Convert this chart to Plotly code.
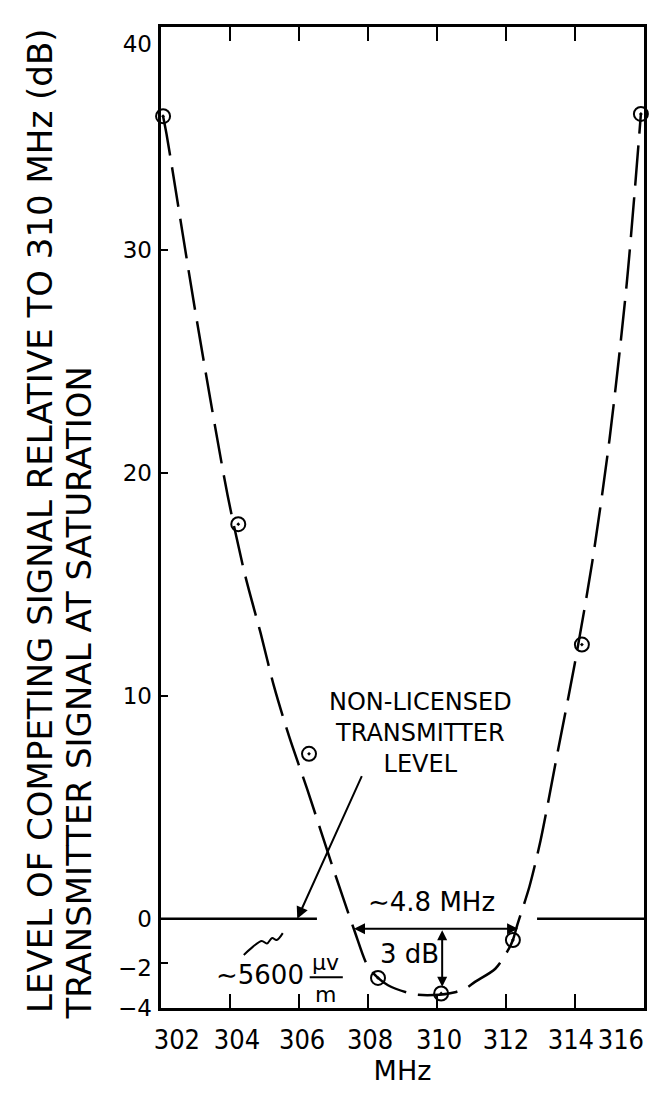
import plotly.graph_objects as go

# ---- data ----
freq_points = [302.06, 304.24, 306.29, 308.29, 310.12, 312.2, 314.2, 315.91]
level_points = [36.0, 17.7, 7.4, -2.65, -3.35, -0.95, 12.3, 36.1]

curve_x = [302.06, 302.16, 303.01, 303.93, 304.44, 304.89, 305.28, 305.73, 306.23,
           306.96, 307.6, 308.0, 308.29, 308.58, 309.31, 309.9, 310.52, 310.86,
           311.1, 311.69, 312.08, 312.2, 312.33, 312.68, 313.0, 313.5, 314.0,
           314.5, 315.0, 315.5, 315.91]
curve_y = [36.0, 35.2, 27.1, 19.0, 15.4, 12.8, 10.4, 8.1, 5.85,
           2.4, -0.5, -2.15, -2.65, -2.98, -3.38, -3.42, -3.29, -3.09,
           -2.83, -2.24, -1.35, -0.95, -0.26, 1.45, 3.5, 7.5, 11.5,
           16.0, 21.5, 28.5, 36.1]

zero_x = [302, 306.52, None, 312.9, 316]
zero_y = [0, 0, None, 0, 0]

wave_x = [304.40, 304.66, 304.92, 305.07, 305.22, 305.35, 305.53]
wave_y = [-1.62, -1.26, -0.99, -1.11, -0.86, -0.95, -0.64]

x_ticks = [302, 304, 306, 308, 310, 312, 314, 316]
x_tick_text = ["302", "304", "306", "308", "310", "312", "314", "316"]
y_ticks = [-4, -2, 0, 10, 20, 30, 40]
y_tick_text = ["\u22124", "\u22122", "0", "10", "20", "30", "40"]

# nudges of the hand-lettered labels, as they sit in the original
x_label_nudge = [0.46, 0.2, 0.09, 0.06, 0.06, 0.0, -0.12, -0.67]
y_label_nudge = [0.0, -0.2, 0.0, 0.0, 0.0, 0.0, -0.75]
x_label_pos = [t + n for t, n in zip(x_ticks, x_label_nudge)]
y_label_pos = [t + n for t, n in zip(y_ticks, y_label_nudge)]

FONT = "DejaVu Sans"
XFONT = "DejaVu Sans Condensed, Liberation Sans Narrow, Liberation Sans, Arial, sans-serif"

fig = go.Figure()
fig.add_trace(go.Scatter(
    x=curve_x, y=curve_y, mode="lines",
    line=dict(color="black", width=2.5, dash="40px,12px", shape="spline", smoothing=0.8),
    hoverinfo="skip", showlegend=False))
fig.add_trace(go.Scatter(
    x=zero_x, y=zero_y, mode="lines", connectgaps=False, xaxis="x2", yaxis="y2",
    line=dict(color="black", width=2.5), hoverinfo="skip", showlegend=False))
fig.add_trace(go.Scatter(
    x=wave_x, y=wave_y, mode="lines",
    line=dict(color="black", width=2, shape="spline"), hoverinfo="skip", showlegend=False))
fig.add_trace(go.Scatter(
    x=freq_points, y=level_points, mode="markers", cliponaxis=False,
    marker=dict(symbol="circle-open-dot", size=14, color="black",
                line=dict(width=2, color="black")),
    showlegend=False))

ann = []
# y-axis title, two left-aligned rotated lines
ann.append(dict(text="LEVEL OF COMPETING SIGNAL RELATIVE TO 310 MHz (dB)",
                xref="paper", yref="paper", x=(40 - 161) / 483, y=(1008 - 1015) / 981,
                xanchor="center", yanchor="bottom", textangle=-90, showarrow=False,
                font=dict(family=FONT, size=34, color="black")))
ann.append(dict(text="TRANSMITTER SIGNAL AT SATURATION",
                xref="paper", yref="paper", x=(79 - 161) / 483, y=(1008 - 1022) / 981,
                xanchor="center", yanchor="bottom", textangle=-90, showarrow=False,
                font=dict(family=FONT, size=34, color="black")))
# callout
ann.append(dict(text="NON-LICENSED<br>TRANSMITTER<br>LEVEL", x=309.53, y=8.35,
                xref="x", yref="y", showarrow=False, align="center",
                font=dict(family=FONT, size=24, color="black")))
ann.append(dict(text="", x=305.95, y=0.0, ax=307.84, ay=6.47, xref="x", yref="y",
                axref="x", ayref="y", showarrow=True, arrowhead=2, arrowsize=1.2,
                arrowwidth=2, arrowcolor="black"))
# 4.8 MHz
ann.append(dict(text="\u223c4.8 MHz", x=309.84, y=0.77, xref="x", yref="y",
                showarrow=False, font=dict(family=FONT, size=26, color="black")))
ann.append(dict(text="", x=312.35, y=-0.45, ax=307.55, ay=-0.45, xref="x", yref="y",
                axref="x", ayref="y", showarrow=True, arrowhead=2, startarrowhead=2,
                arrowside="end+start", arrowsize=1.1, arrowwidth=2, arrowcolor="black"))
# 3 dB
ann.append(dict(text="3 dB", x=309.19, y=-1.56, xref="x", yref="y",
                showarrow=False, font=dict(family=FONT, size=26, color="black")))
ann.append(dict(text="", x=310.15, y=-3.05, ax=310.15, ay=-0.45, xref="x", yref="y",
                axref="x", ayref="y", showarrow=True, arrowhead=2, startarrowhead=2,
                arrowside="end+start", arrowsize=1.0, arrowwidth=2, arrowcolor="black"))
# ~5600 uv/m
ann.append(dict(text="\u223c5600", x=304.86, y=-2.53, xref="x", yref="y",
                showarrow=False, font=dict(family=FONT, size=26, color="black")))
ann.append(dict(text="\u03bcv", x=306.78, y=-1.96, xref="x", yref="y",
                showarrow=False, font=dict(family=FONT, size=22, color="black")))
ann.append(dict(text="m", x=306.78, y=-3.39, xref="x", yref="y",
                showarrow=False, font=dict(family=FONT, size=22, color="black")))
ann.append(dict(text="", x=305.64, y=-0.49, ax=305.53, ay=-0.64, xref="x", yref="y",
                axref="x", ayref="y", showarrow=True, arrowhead=2, arrowsize=1.2,
                arrowwidth=2, arrowcolor="black"))

fig.add_shape(type="line", xref="x", yref="y", x0=306.31, x1=307.27, y0=-2.62, y1=-2.62,
              line=dict(color="black", width=2))

fig.update_layout(
    width=654, height=1094, template="none",
    margin=dict(l=161, r=10, t=27, b=86),
    paper_bgcolor="white", plot_bgcolor="white", showlegend=False,
    font=dict(family=FONT, color="black"),
    annotations=ann,
    xaxis=dict(range=[302, 316], tickmode="array", tickvals=x_ticks,
               showticklabels=False,
               ticks="inside", ticklen=14, tickwidth=2, tickcolor="black",
               showline=True, linewidth=3, linecolor="black", mirror="ticks",
               showgrid=False, zeroline=False, automargin=False),
    xaxis2=dict(range=[302, 316], overlaying="x", anchor="y", side="bottom",
                tickmode="array", tickvals=x_label_pos, ticktext=x_tick_text,
                tickangle=0, ticklabeloverflow="allow", ticks="",
                showline=False, showgrid=False, zeroline=False, automargin=False,
                tickfont=dict(family=XFONT, size=27, color="black"),
                ticklabelstandoff=13,
                title=dict(text="MHz", font=dict(family=FONT, size=27, color="black"),
                           standoff=6)),
    yaxis=dict(range=[-4, 40], tickmode="array", tickvals=y_ticks,
               showticklabels=False,
               ticks="inside", ticklen=7, tickwidth=2, tickcolor="black",
               showline=True, linewidth=3, linecolor="black", mirror=True,
               showgrid=False, zeroline=False, automargin=False),
    yaxis2=dict(range=[-4, 40], overlaying="y", anchor="x", side="left",
                tickmode="array", tickvals=y_label_pos, ticktext=y_tick_text,
                ticks="", showline=False, showgrid=False, zeroline=False,
                automargin=False, ticklabeloverflow="allow",
                tickfont=dict(family=FONT, size=23, color="black"),
                ticklabelstandoff=8),
)

fig.write_html("out.html")
